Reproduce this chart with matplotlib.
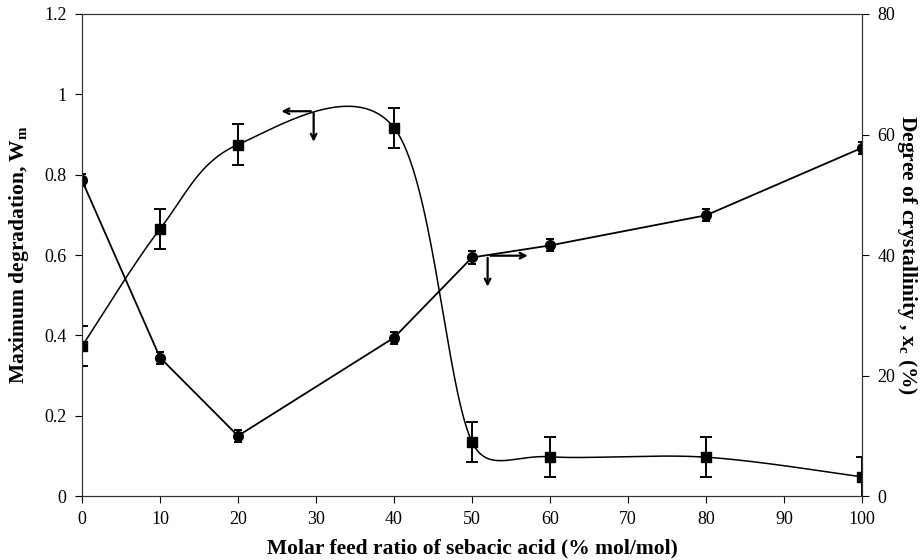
import numpy as np
import matplotlib.pyplot as plt

plt.rcParams['font.family'] = ['Liberation Serif', 'DejaVu Serif']
plt.rcParams['mathtext.fontset'] = 'stix'

# ========== Data ==========
ratio = [0, 10, 20, 40, 50, 60, 80, 100]
wm = [0.373, 0.665, 0.875, 0.917, 0.135, 0.098, 0.097, 0.048]
wm_err = [0.05, 0.05, 0.05, 0.05, 0.05, 0.05, 0.05, 0.05]
xc = [52.4, 23.0, 10.0, 26.3, 39.6, 41.6, 46.6, 57.8]
xc_err = [1.0, 1.0, 1.0, 1.0, 1.0, 1.0, 1.0, 1.0]


def smooth(ax, xs, ys, n=60, cap=0.45):
    # Excel-like bezier smoothing in pixel space, handles capped by chord
    p = ax.transData.transform(np.column_stack([xs, ys]))
    m = len(p)
    ext = np.vstack([p[0], p, p[-1]])
    out = []
    t = np.linspace(0, 1, n)[:, None]
    for i in range(m - 1):
        p0, p1, p2, p3 = ext[i], ext[i + 1], ext[i + 2], ext[i + 3]
        chord = np.hypot(*(p2 - p1))
        h1 = (p2 - p0) / 6
        h2 = (p3 - p1) / 6
        for h in (h1, h2):
            ln = np.hypot(*h)
            if ln > cap * chord:
                h *= cap * chord / ln
        c1 = p1 + h1
        c2 = p2 - h2
        seg = ((1 - t) ** 3) * p1 + 3 * ((1 - t) ** 2) * t * c1 \
            + 3 * (1 - t) * t ** 2 * c2 + t ** 3 * p2
        out.append(seg)
    out = ax.transData.inverted().transform(np.vstack(out))
    return out[:, 0], out[:, 1]


# ========== Plot ==========
fig, ax = plt.subplots(figsize=(9.23, 5.6), dpi=100)
fig.subplots_adjust(left=0.0888, right=0.934, bottom=0.114, top=0.975)
ax2 = ax.twinx()

ax.set_xlim(0, 100)
ax.set_ylim(0, 1.2)
ax2.set_ylim(0, 80)

sx, sy = smooth(ax, ratio, wm)
ax.plot(sx, sy, color="black", lw=1.1)
ax.errorbar(ratio, wm, yerr=wm_err, fmt="s", color="black", ms=6.5,
            ecolor="black", elinewidth=1.4, capsize=4, capthick=1.4)

ax2.plot(ratio, xc, color="black", lw=1.3)
ax2.errorbar(ratio, xc, yerr=xc_err, fmt="o", color="black", ms=7,
             ecolor="black", elinewidth=1.4, capsize=3, capthick=1.4)

ax.set_xticks(range(0, 101, 10))
ax.set_yticks([0, 0.2, 0.4, 0.6, 0.8, 1.0, 1.2])
ax.set_yticklabels(["0", "0.2", "0.4", "0.6", "0.8", "1", "1.2"])
ax2.set_yticks([0, 20, 40, 60, 80])

for a in (ax, ax2):
    a.tick_params(labelsize=13, length=5, width=0.8, pad=6)
    for s in a.spines.values():
        s.set_linewidth(0.8)
        s.set_color("#333333")

ax.set_xlabel("Molar feed ratio of sebacic acid (% mol/mol)", fontsize=15.5,
              fontweight="bold", va="center")
ax.set_ylabel("Maximum degradation, W$_\\mathregular{m}$", fontsize=15.5,
              fontweight="bold", va="center")
ax2.set_ylabel("Degree of crystallinity , x$_\\mathregular{c}$ (%)", fontsize=15.5,
               fontweight="bold", rotation=270, va="center")
ax.xaxis.set_label_coords(0.5, -0.108)
ax.yaxis.set_label_coords(-0.081, 0.5)
ax2.yaxis.set_label_coords(1.058, 0.5)

# pointer arrows
arr = dict(arrowstyle="->", color="black", lw=1.6)
ax.annotate("", xy=(25.2, 0.958), xytext=(29.7, 0.958), arrowprops=arr)
ax.annotate("", xy=(29.7, 0.875), xytext=(29.7, 0.960), arrowprops=arr)
ax2.annotate("", xy=(57.5, 39.9), xytext=(52.0, 39.9), arrowprops=arr)
ax2.annotate("", xy=(52.0, 34.3), xytext=(52.0, 40.0), arrowprops=arr)

plt.savefig("out.png", dpi=100)
